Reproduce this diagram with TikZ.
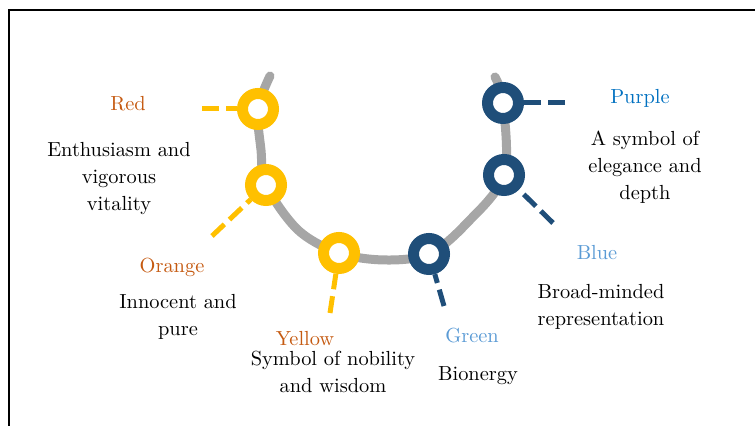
\documentclass[tikz,border=0pt]{standalone}
\usetikzlibrary{backgrounds}

\definecolor{ringYellow}{HTML}{FFC000}
\definecolor{ringNavy}{HTML}{1F4E79}
\definecolor{trackGray}{HTML}{A6A6A6}
\definecolor{warmText}{HTML}{C55A11}
\definecolor{deepBlueText}{HTML}{0070C0}
\definecolor{lightBlueText}{HTML}{5B9BD5}

\tikzset{
  ring/.style={draw=#1,circle,line width=5.5pt,minimum size=15.5pt,inner sep=0pt,fill=white},
  tick/.style={draw=#1,line width=2.5pt,dash pattern=on 8.5pt off 3.5pt},
  track/.style={draw=trackGray,line width=4.5pt,line cap=round},
  colname/.style={text=#1,font=\fontsize{10.2}{13.5}\selectfont},
  meaning/.style={align=center,font=\fontsize{10.2}{13.5}\selectfont}
}

\begin{document}
\begin{tikzpicture}[x=0.5pt,y=-0.5pt]
      \useasboundingbox (0,0) rectangle (755,426);
      \draw[line width=1pt] (755,10) -- (9,10) -- (9,426);

      \def \Rings {
        red/258/109/ringYellow/202/109,
        orange/266/185/ringYellow/212/236,
        yellow/339/253/ringYellow/330/313,
        green/429/254/ringNavy/444/306,
        blue/504/175/ringNavy/553/223,
        purple/503/103/ringNavy/565/103}
      \def \Names {
        red/128/104/warmText/Red,
        orange/172/267/warmText/Orange,
        yellow/305/339/warmText/Yellow,
        green/472/336/lightBlueText/Green,
        blue/597/253/lightBlueText/Blue,
        purple/640/98/deepBlueText/Purple}
      \def \Meanings {
        red/119/179/Enthusiasm and\\vigorous\\vitality,
        orange/178/317/Innocent and\\pure,
        yellow/333/372/Symbol of nobility\\and wisdom,
        green/478/376/Bionergy,
        blue/601/307/Broad-minded\\representation,
        purple/645/167/A symbol of\\elegance and\\depth}

      \foreach \id / \x / \y / \c / \ex / \ey in \Rings {
        \node[ring=\c] (\id) at (\x, \y) {};
        \coordinate (\id end) at (\ex, \ey);
        \path[tick=\c] (\id end) -- (\id);
      }
      \begin{pgfonlayer}{background}
        \path[track] plot[smooth,tension=0.55] coordinates {(270,76) (red.center) (261,150)
          (orange.center) (298,230) (yellow.center) (385,260) (green.center)
          (466,224) (blue.center) (purple.center) (495,77)};
      \end{pgfonlayer}
      \foreach \id / \x / \y / \c / \w in \Names {
        \node[colname=\c] (\id name) at (\x, \y) {\w};
      }
      \foreach \id / \x / \y / \w in \Meanings {
        \node[meaning] (\id text) at (\x, \y) {\w};
      }
\end{tikzpicture}
\end{document}
